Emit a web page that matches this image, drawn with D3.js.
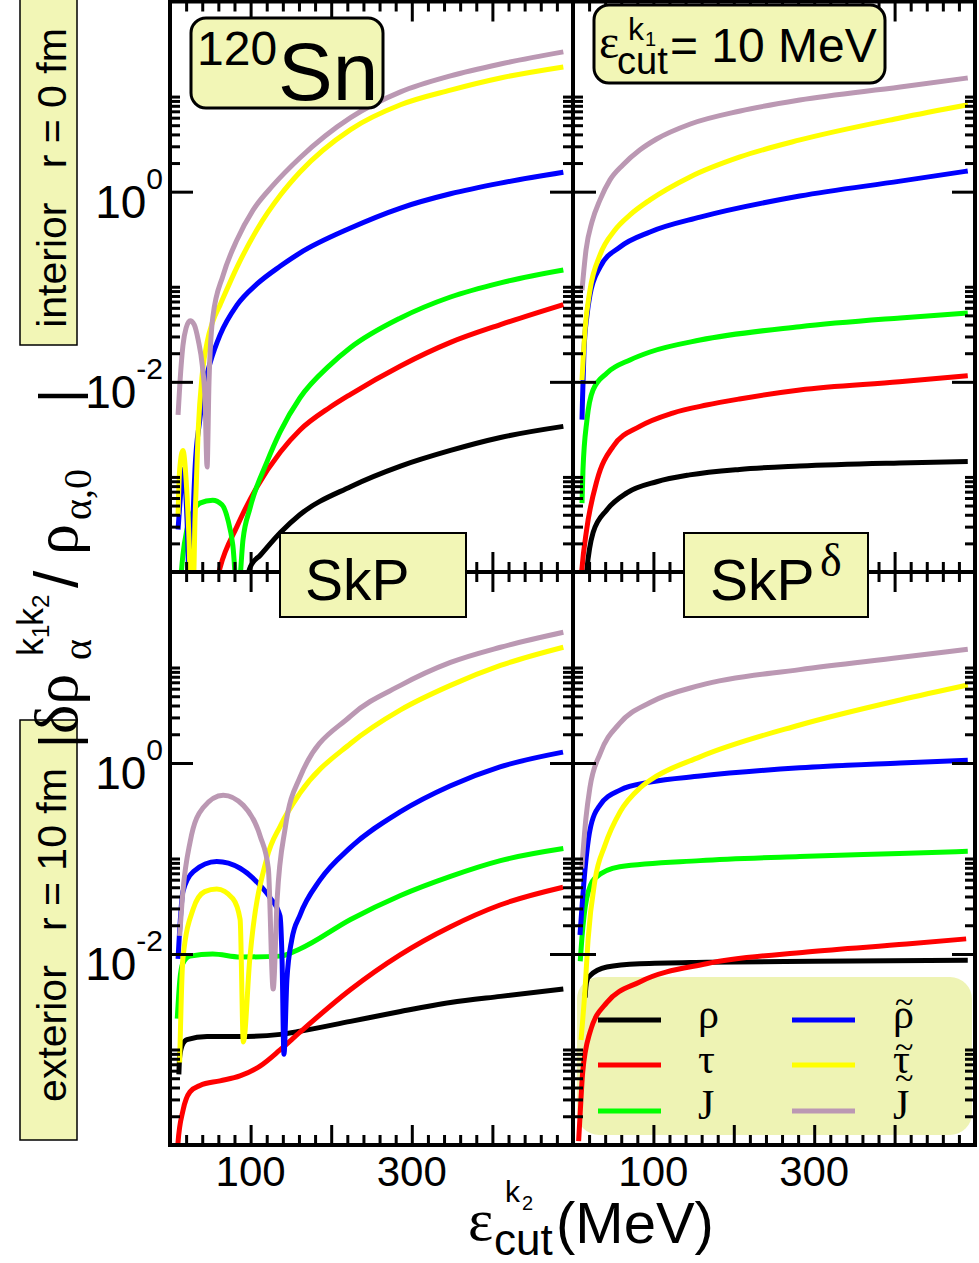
<!DOCTYPE html>
<html>
<head>
<meta charset="utf-8">
<script src="https://cdn.jsdelivr.net/npm/d3@7/dist/d3.min.js"></script>
<style>
  html, body { margin: 0; padding: 0; background: #ffffff; }
  svg { display: block; }
  .sans { font-family: "Liberation Sans", Arial, Helvetica, sans-serif; }
  .serif { font-family: "Liberation Serif", "Times New Roman", serif; }
</style>
</head>
<body>
<svg id="chart" width="979" height="1263"></svg>
<script>
// ---- axes ----------------------------------------------------------------
const xDomain = [0, 500];                 // cut-off energy (MeV)
const yDomain = [1e-4, 1e2];              // relative change (log)
const xMajorTicks = [100, 200, 300, 400];
const xMinorTicks = [20, 40, 60, 80, 120, 140, 160, 180, 220, 240, 260, 280,
                     320, 340, 360, 380, 420, 440, 460, 480];
const xTickLabels = [100, 300];
const yMajorTicks = [1e-2, 1];
const yMinorTicks = [2e-4, 3e-4, 4e-4, 5e-4, 6e-4, 7e-4, 8e-4, 9e-4, 1e-3,
                     2e-2, 3e-2, 4e-2, 5e-2, 6e-2, 7e-2, 8e-2, 9e-2, 1e-1,
                     2, 3, 4, 5, 6, 7, 8, 9, 10];
const yTickLabels = [[1, "0"], [1e-2, "-2"]];

// ---- densities ------------------------------------------------------------
const seriesKeys   = ["rho", "tau", "J", "rhoT", "tauT", "JT"];
const seriesColors = ["#000000", "#ff0000", "#00ff00", "#0000ff", "#ffff00", "#bb98b3"];
const seriesLabels = ["ρ", "τ", "J", "ρ", "τ", "J"];
const seriesTilde  = [false, false, false, true, true, true];

// interior (r = 0 fm), SkP   — [E_cut (MeV), |δρ/ρ0|]
const inSkP_rho  = [[94, 8e-5], [100, 1.15e-4], [112, 1.5e-4], [137, 2.6e-4], [161, 4.0e-4], [224, 7.9e-4],
                    [286, 1.3e-3], [348, 1.9e-3], [410, 2.6e-3], [488, 3.4e-3]];
const inSkP_tau  = [[58, 8e-5], [62, 1.1e-4], [83, 3.0e-4], [108, 7.9e-4], [137, 1.83e-3], [161, 3.1e-3],
                    [198.5, 5.4e-3], [224, 7.4e-3], [286, 1.47e-2], [348, 2.6e-2], [410, 4.0e-2], [488, 6.5e-2]];
const inSkP_J    = [[12, 6e-5], [16, 1.5e-4], [21, 2.8e-4], [28.5, 4.3e-4], [37, 5.3e-4], [53, 5.7e-4],
                    [64.5, 5.1e-4], [72, 3.5e-4], [78, 1.9e-4], [84, 5e-5], [90.6, 2.2e-4], [99.3, 4.7e-4],
                    [120.3, 1.44e-3], [136.5, 2.96e-3], [161.3, 6.8e-3], [198.5, 1.5e-2], [223.3, 2.27e-2],
                    [286, 4.7e-2], [348, 7.8e-2], [410, 0.11], [488, 0.15]];
const inSkP_rhoT = [[10, 2.8e-4], [13.6, 7.3e-4], [16, 1.2e-3], [20, 5.7e-4], [22, 2.2e-4], [24, 5e-5],
                    [26, 5e-5], [28.5, 3.5e-4], [31, 1.2e-3], [37, 4.0e-3], [43, 9.3e-3], [50, 1.6e-2],
                    [62, 3.1e-2], [83, 6.4e-2], [108, 0.107], [137, 0.165], [161, 0.226], [224, 0.415],
                    [286, 0.673], [348, 0.95], [410, 1.23], [488, 1.6]];
const inSkP_tauT = [[10, 4e-4], [12, 1.2e-3], [16, 1.9e-3], [20, 9.3e-4], [23.6, 2.2e-4], [26, 5e-5],
                    [28.5, 5e-5], [31, 3.5e-4], [35, 3.1e-3], [40, 1.2e-2], [46, 2.6e-2], [53, 4.3e-2],
                    [62, 6.4e-2], [83, 0.16], [108, 0.40], [137, 0.92], [161, 1.6], [224, 4.5],
                    [286, 8.2], [348, 11.7], [410, 15.7], [488, 20.5]];
const inSkP_JT   = [[10, 4.5e-3], [12.4, 1.0e-2], [16, 2.4e-2], [20, 3.7e-2], [25, 4.4e-2], [30, 4.0e-2],
                    [35, 2.75e-2], [40, 1.5e-2], [43.5, 6.4e-3], [46, 1.27e-3], [48.4, 1.0e-2],
                    [53, 4.7e-2], [66, 0.133], [83, 0.31], [103, 0.64], [128, 1.17], [161, 2.26],
                    [224, 6.0], [286, 11.2], [348, 16.5], [410, 22], [488, 29.5]];

// interior (r = 0 fm), SkP-delta
const inSkPd_rho  = [[16, 8e-5], [17, 1.0e-4], [25, 2.6e-4], [42, 4.5e-4], [67, 6.8e-4], [104, 8.9e-4],
                     [145, 1.05e-3], [207, 1.2e-3], [282, 1.3e-3], [406, 1.4e-3], [491, 1.45e-3]];
const inSkPd_tau  = [[10, 8e-5], [11, 1.05e-4], [17, 2.8e-4], [30, 9.3e-4], [50, 2.1e-3], [83, 3.4e-3],
                     [124, 4.7e-3], [166, 5.7e-3], [207, 6.6e-3], [282, 8.2e-3], [406, 1.0e-2], [491, 1.16e-2]];
const inSkPd_J    = [[11.2, 5.3e-4], [12.4, 1.18e-3], [17.4, 4.0e-3], [24.9, 8.2e-3], [42.3, 1.24e-2],
                     [70.9, 1.7e-2], [95.8, 2.06e-2], [158, 2.75e-2], [282, 3.8e-2], [407, 4.7e-2], [491, 5.3e-2]];
const inSkPd_rhoT = [[11.2, 4.0e-3], [11.8, 6.4e-3], [13.7, 2.16e-2], [17.4, 5.0e-2], [21.1, 8.2e-2],
                     [33.6, 0.161], [58.5, 0.262], [95.8, 0.377], [158, 0.54], [282, 0.90], [407, 1.29], [491, 1.65]];
const inSkPd_tauT = [[11.2, 1.04e-2], [14.9, 3.5e-2], [21.1, 9.2e-2], [33.6, 0.216], [52.2, 0.395],
                     [70.9, 0.57], [95.8, 0.82], [145.5, 1.43], [207.7, 2.32], [282.3, 3.5], [406.7, 5.96], [491.3, 8.2]];
const inSkPd_JT   = [[11.2, 9.2e-2], [16.2, 0.244], [23.6, 0.48], [33.6, 0.82], [46, 1.33], [62, 1.91],
                     [83, 2.74], [104, 3.58], [146, 5.15], [208, 7.06], [282, 9.2], [407, 12.6], [491, 15.7]];

// exterior (r = 10 fm), SkP
const exSkP_rho  = [[11, 5.5e-4], [12, 8.4e-4], [16, 1.15e-3], [21, 1.27e-3], [46, 1.37e-3], [96, 1.37e-3],
                    [137, 1.44e-3], [161, 1.55e-3], [224, 1.97e-3], [286, 2.5e-3], [348, 3.1e-3],
                    [410, 3.6e-3], [488, 4.3e-3]];
const exSkP_tau  = [[8, 6e-5], [9.9, 1.05e-4], [16.1, 2.3e-4], [24.8, 3.6e-4], [37.2, 4.2e-4], [62, 4.7e-4],
                    [86.8, 5.3e-4], [111.7, 6.7e-4], [136.5, 9.9e-4], [161.3, 1.52e-3], [223.3, 4.2e-3],
                    [285.4, 9.8e-3], [347.4, 1.92e-2], [409.4, 3.26e-2], [487.6, 5.0e-2]];
const exSkP_J    = [[9, 2.1e-3], [12, 5.1e-3], [16, 8e-3], [25, 9.5e-3], [53, 1.0e-2], [87, 9.3e-3],
                    [137, 9.5e-3], [161, 1.13e-2], [224, 2.3e-2], [286, 4.1e-2], [348, 6.5e-2],
                    [410, 9.5e-2], [488, 0.127]];
const exSkP_rhoT = [[10, 8.9e-3], [16, 4.5e-2], [29, 7.3e-2], [58, 9.3e-2], [87, 7.9e-2], [112, 5.2e-2],
                    [124, 3.9e-2], [136.5, 2.5e-2], [139, 8.9e-3], [141.4, 8.9e-4], [145, 5.3e-3],
                    [151, 1.4e-2], [161.3, 2.56e-2], [186.1, 5.96e-2], [223.3, 0.129], [285.4, 0.307],
                    [347.4, 0.574], [409.4, 0.91], [487.6, 1.30]];
const exSkP_tauT = [[12, 7.3e-4], [16, 8.9e-3], [29, 3.0e-2], [43, 4.5e-2], [58, 4.8e-2], [78, 3.8e-2],
                    [87, 2.3e-2], [91, 1.2e-3], [99, 8.9e-3], [120, 0.10], [137, 0.22], [161, 0.48],
                    [224, 1.6], [286, 3.6], [348, 6.5], [410, 10.5], [488, 16.3]];
const exSkP_JT   = [[12, 1.55e-2], [16, 4.5e-2], [25, 0.15], [41, 0.34], [66, 0.46], [91, 0.36],
                    [112, 0.17], [122, 7.9e-2], [128, 4.3e-3], [133, 3.8e-2], [143, 0.21], [161, 0.70],
                    [224, 3.1], [286, 6.5], [348, 11.3], [410, 16.3], [488, 23.4]];

// exterior (r = 10 fm), SkP-delta
const exSkPd_rho  = [[15, 3.5e-3], [16, 4.5e-3], [18, 5.5e-3], [21, 5.9e-3], [42, 7.3e-3], [83, 7.9e-3],
                     [166, 8.2e-3], [300, 8.4e-3], [491, 8.6e-3]];
const exSkPd_tau  = [[7, 1.1e-4], [9, 2.2e-4], [12, 5.7e-4], [21, 1.5e-3], [42, 3.1e-3], [83, 5.1e-3],
                     [166, 7.9e-3], [291, 1.05e-2], [415, 1.27e-2], [489, 1.44e-2]];
const exSkPd_J    = [[9, 8.4e-3], [11, 1.44e-2], [17, 3.8e-2], [27, 6.2e-2], [58, 8.2e-2], [158, 9.5e-2],
                     [282, 0.105], [406, 0.113], [491, 0.119]];
const exSkPd_rhoT = [[8.7, 1.58e-2], [14.9, 7.6e-2], [21.1, 0.199], [33.6, 0.363], [58.5, 0.52],
                     [95.8, 0.63], [158, 0.73], [282, 0.89], [407, 1.0], [491, 1.07]];
const exSkPd_tauT = [[10, 1.26e-3], [14.9, 4.2e-3], [18.7, 1.4e-2], [27.4, 5.96e-2], [39.8, 0.138],
                     [58.5, 0.307], [83.3, 0.547], [95.8, 0.66], [158, 1.16], [282, 2.5], [407, 4.57], [491, 6.56]];
const exSkPd_JT   = [[11, 7.9e-2], [16, 0.26], [21, 0.55], [34, 1.27], [58, 2.6], [96, 4.3], [158, 6.5],
                     [282, 9.5], [406, 12.7], [491, 15.5]];

// ---- layout ---------------------------------------------------------------
const frame = { left: 170, mid: 573, right: 975, top: 1.5, hmid: 572, bottom: 1145 };
const panels = [
  { x0: frame.left, x1: frame.mid,   y0: frame.top,  y1: frame.hmid,   yLabels: true,  xLabels: false,
    series: [inSkP_rho, inSkP_tau, inSkP_J, inSkP_rhoT, inSkP_tauT, inSkP_JT] },
  { x0: frame.mid,  x1: frame.right, y0: frame.top,  y1: frame.hmid,   yLabels: false, xLabels: false,
    series: [inSkPd_rho, inSkPd_tau, inSkPd_J, inSkPd_rhoT, inSkPd_tauT, inSkPd_JT] },
  { x0: frame.left, x1: frame.mid,   y0: frame.hmid, y1: frame.bottom, yLabels: true,  xLabels: true,
    series: [exSkP_rho, exSkP_tau, exSkP_J, exSkP_rhoT, exSkP_tauT, exSkP_JT] },
  { x0: frame.mid,  x1: frame.right, y0: frame.hmid, y1: frame.bottom, yLabels: false, xLabels: true,
    series: [exSkPd_rho, exSkPd_tau, exSkPd_J, exSkPd_rhoT, exSkPd_tauT, exSkPd_JT] }
];

const boxFill = "#f2f6b6";
const legendFill = "#eef3b4";
const svg = d3.select("#chart");
const defs = svg.append("defs");

// legend backdrop sits underneath the curves
svg.append("rect").attr("x", 577).attr("y", 977).attr("width", 395).attr("height", 158)
  .attr("rx", 22).attr("fill", legendFill);

panels.forEach((p, i) => {
  const x = d3.scaleLinear().domain(xDomain).range([p.x0, p.x1]);
  const y = d3.scaleLog().domain(yDomain).range([p.y1, p.y0]);

  defs.append("clipPath").attr("id", "clip" + i).append("rect")
    .attr("x", p.x0).attr("y", p.y0).attr("width", p.x1 - p.x0).attr("height", p.y1 - p.y0);

  const line = d3.line().x(d => x(d[0])).y(d => y(d[1])).curve(d3.curveMonotoneX);
  const g = svg.append("g").attr("clip-path", `url(#clip${i})`);
  p.series.forEach((s, k) => {
    g.append("path").datum(s).attr("d", line).attr("fill", "none")
      .attr("stroke", seriesColors[k]).attr("stroke-width", 5).attr("stroke-linejoin", "round");
  });

  // ticks on all four sides, pointing inward
  const tickSets = [
    [d3.axisRight,  y, `translate(${p.x0},0)`, yMajorTicks, 23, yMinorTicks, 10],
    [d3.axisLeft,   y, `translate(${p.x1},0)`, yMajorTicks, 23, yMinorTicks, 10],
    [d3.axisBottom, x, `translate(0,${p.y0})`, xMajorTicks, 20, xMinorTicks, 10],
    [d3.axisTop,    x, `translate(0,${p.y1})`, xMajorTicks, 20, xMinorTicks, 10]
  ];
  tickSets.forEach(([axisFn, sc, tr, majors, majLen, minors, minLen]) => {
    [[majors, majLen], [minors, minLen]].forEach(([vals, len]) => {
      const a = svg.append("g").attr("transform", tr)
        .call(axisFn(sc).tickValues(vals).tickSize(len).tickFormat(""));
      a.select(".domain").remove();
      a.selectAll("line").attr("stroke", "#000").attr("stroke-width", 3);
    });
  });

  if (p.yLabels) {
    yTickLabels.forEach(([v, ex]) => {
      const t = svg.append("text").attr("class", "sans").attr("x", p.x0 - 7).attr("y", y(v) + 26)
        .attr("text-anchor", "end").attr("fill", "#000");
      t.append("tspan").attr("font-size", 46).text("10");
      t.append("tspan").attr("font-size", 30).attr("dy", -29).text(ex);
    });
  }
  if (p.xLabels) {
    xTickLabels.forEach(v => {
      svg.append("text").attr("class", "sans").attr("x", x(v)).attr("y", p.y1 + 41)
        .attr("text-anchor", "middle").attr("font-size", 42).text(v);
    });
  }
});

// frame
const fr = svg.append("g").attr("stroke", "#000").attr("stroke-width", 4).attr("fill", "none");
fr.append("rect").attr("x", frame.left).attr("y", frame.top)
  .attr("width", frame.right - frame.left).attr("height", frame.bottom - frame.top);
fr.append("line").attr("x1", frame.mid).attr("x2", frame.mid).attr("y1", frame.top).attr("y2", frame.bottom);
fr.append("line").attr("x1", frame.left).attr("x2", frame.right).attr("y1", frame.hmid).attr("y2", frame.hmid);

// ---- labels ---------------------------------------------------------------
function box(x, y, w, h, rx, sw) {
  svg.append("rect").attr("x", x).attr("y", y).attr("width", w).attr("height", h).attr("rx", rx)
    .attr("fill", boxFill).attr("stroke", "#000").attr("stroke-width", sw);
}
// one text element built from positioned runs
function runs(parent, list, attrs) {
  const t = parent.append("text");
  Object.entries(attrs || {}).forEach(([k, v]) => t.attr(k, v));
  list.forEach(([cls, fs, x, y, s]) => {
    t.append("tspan").attr("class", cls).attr("font-size", fs).attr("x", x).attr("y", y).text(s);
  });
  return t;
}

// legend entries
const lgRows = [1020, 1065, 1111];
seriesKeys.forEach((key, k) => {
  const col = Math.floor(k / 3), row = k % 3;
  const lx = col === 0 ? 598 : 792;
  const tx = col === 0 ? 698 : 893;
  const yb = lgRows[row];
  svg.append("line").attr("x1", lx).attr("x2", lx + 63).attr("y1", yb).attr("y2", yb)
    .attr("stroke", seriesColors[k]).attr("stroke-width", 5);
  const parts = [["serif", 42, tx, yb + 8, seriesLabels[k]]];
  if (seriesTilde[k]) parts.push(["serif", 34, tx + 2, yb - (seriesLabels[k] === "J" ? 22 : 7), "~"]);
  runs(svg, parts);
});

// nucleus
box(191, 18, 192, 90, 15, 3);
runs(svg, [["sans", 48, 197, 65, "120"], ["sans", 82, 278, 100, "Sn"]]);

// first cut-off
box(594, 5, 291, 78, 15, 3);
runs(svg, [["serif", 48, 599, 58, "ε"], ["sans", 38, 617, 74, "cut"], ["sans", 32, 628, 40, "k"],
           ["sans", 20, 645, 46, "1"], ["sans", 48, 670, 62, "= 10 MeV"]]);

// functionals
box(280, 533, 186, 84, 0, 2);
runs(svg, [["sans", 57, 305, 600, "SkP"]]);
box(684, 533, 184, 84, 0, 2);
runs(svg, [["sans", 57, 710, 600, "SkP"], ["serif", 46, 820, 576, "δ"]]);

// radius tags
function sideTag(y, h, cy, label) {
  box(20, y, 57, h, 0, 1.5);
  svg.append("text").attr("class", "sans").attr("font-size", 41).attr("text-anchor", "middle")
    .attr("transform", `translate(66,${cy}) rotate(-90)`).style("white-space", "pre").text(label);
}
sideTag(-2, 347, 178, "interior   r = 0 fm");
sideTag(720, 420, 935, "exterior   r = 10 fm");

// y title (reads bottom to top)
const yt = svg.append("g").attr("transform", "translate(77,748) rotate(-90)");
runs(yt, [
  ["sans", 54, 0, 0, "|"], ["serif", 62, 14, 0, "δρ"],
  ["serif", 40, 88, 14, "α"], ["sans", 36, 92, -34, "k"], ["sans", 24, 110, -28, "1"],
  ["sans", 36, 122, -34, "k"], ["sans", 24, 140, -28, "2"], ["sans", 62, 160, 0, "/"],
  ["serif", 62, 193, 0, "ρ"], ["serif", 40, 228, 14, "α,0"], ["sans", 54, 345, 0, "|"]
]);

// x title
runs(svg, [["serif", 60, 468, 1240, "ε"], ["sans", 30, 505, 1202, "k"], ["sans", 20, 522, 1210, "2"],
           ["sans", 44, 494, 1255, "cut"], ["sans", 58, 556, 1243, "(MeV)"]]);
</script>
</body>
</html>
